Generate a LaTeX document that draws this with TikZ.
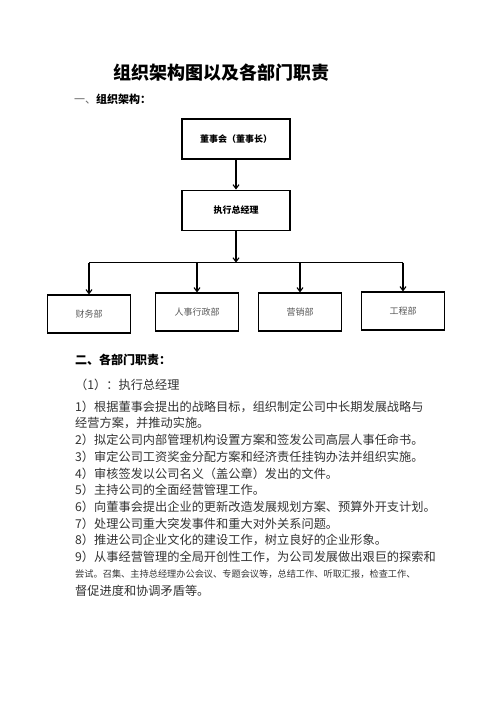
\documentclass[tikz,border=0pt]{standalone}
\usepackage{fontspec}
\setmainfont{Noto Sans CJK SC}
\usepackage{xcolor}
\usetikzlibrary{arrows.meta,positioning,calc}

\begin{document}
\begin{tikzpicture}[
  x=1pt,y=-1pt,
  font=\fontsize{9}{10}\selectfont,
  node distance=30pt,
  box/.style={draw,line width=1.1pt,minimum width=108pt,minimum height=40pt,inner sep=1pt,font=\fontsize{9}{10}\selectfont\bfseries},
  dept/.style={draw,line width=1.1pt,minimum width=83pt,minimum height=38pt,inner sep=1pt,text=black!65},
  head/.style={anchor=west,inner sep=0pt,font=\fontsize{12}{14}\selectfont\bfseries},
  body/.style={anchor=west,inner sep=0pt,text=black!80,font=\fontsize{12.2}{14}\selectfont},
  arr/.style={-{Straight Barb[length=4pt,width=6pt]},line width=1.1pt},
]
\useasboundingbox[fill=white] (0,0) rectangle (496,702);
\node[inner sep=0pt,font=\fontsize{18}{20}\selectfont\bfseries] (title) at (221.5,73) {组织架构图以及各部门职责};
\node[head,font=\fontsize{11}{13}\selectfont] (sec1) at (74,99) {{\mdseries\color{black!60}一、}\bfseries 组织架构：};
\node[box] (board) at (236,139) {董事会（董事长）};
\node[box,below=of board] (exec) {执行总经理};
\node[dept] (fin) at (89,314) {财务部};
\node[dept] (hr) at (197,312) {人事行政部};
\node[dept] (mkt) at (300,312) {营销部};
\node[dept] (eng) at (403,311) {工程部};
\coordinate (bus) at ($(exec.south)+(0,32)$);
\draw[arr] (board) -- (exec);
\draw[arr] (exec) -- (bus);
\draw[line width=0.9pt] (bus -| fin) -- (bus -| eng);
\foreach \d in {fin,hr,mkt,eng}
  \draw[arr] (bus -| \d) -- (\d);
\node[head] (sec2) at (75,360) {二、各部门职责：};
\node[body] (role) at (75,385) {（1）：执行总经理};
\foreach \t [count=\i] in {
  1）根据董事会提出的战略目标，组织制定公司中长期发展战略与,
  经营方案，并推动实施。,
  2）拟定公司内部管理机构设置方案和签发公司高层人事任命书。,
  3）审定公司工资奖金分配方案和经济责任挂钩办法并组织实施。,
  4）审核签发以公司名义（盖公章）发出的文件。,
  5）主持公司的全面经营管理工作。,
  6）向董事会提出企业的更新改造发展规划方案、预算外开支计划。,
  7）处理公司重大突发事件和重大对外关系问题。,
  8）推进公司企业文化的建设工作，树立良好的企业形象。,
  9）从事经营管理的全局开创性工作，为公司发展做出艰巨的探索和,
  {\fontsize{9.2}{11}\selectfont 尝试。召集、主持总经理办公会议、专题会议等，总结工作、听取汇报，检查工作、},
  督促进度和协调矛盾等。}
  \node[body] (line\i) at (75,{406.7+16.7*(\i-1)}) {\t};
\end{tikzpicture}
\end{document}
